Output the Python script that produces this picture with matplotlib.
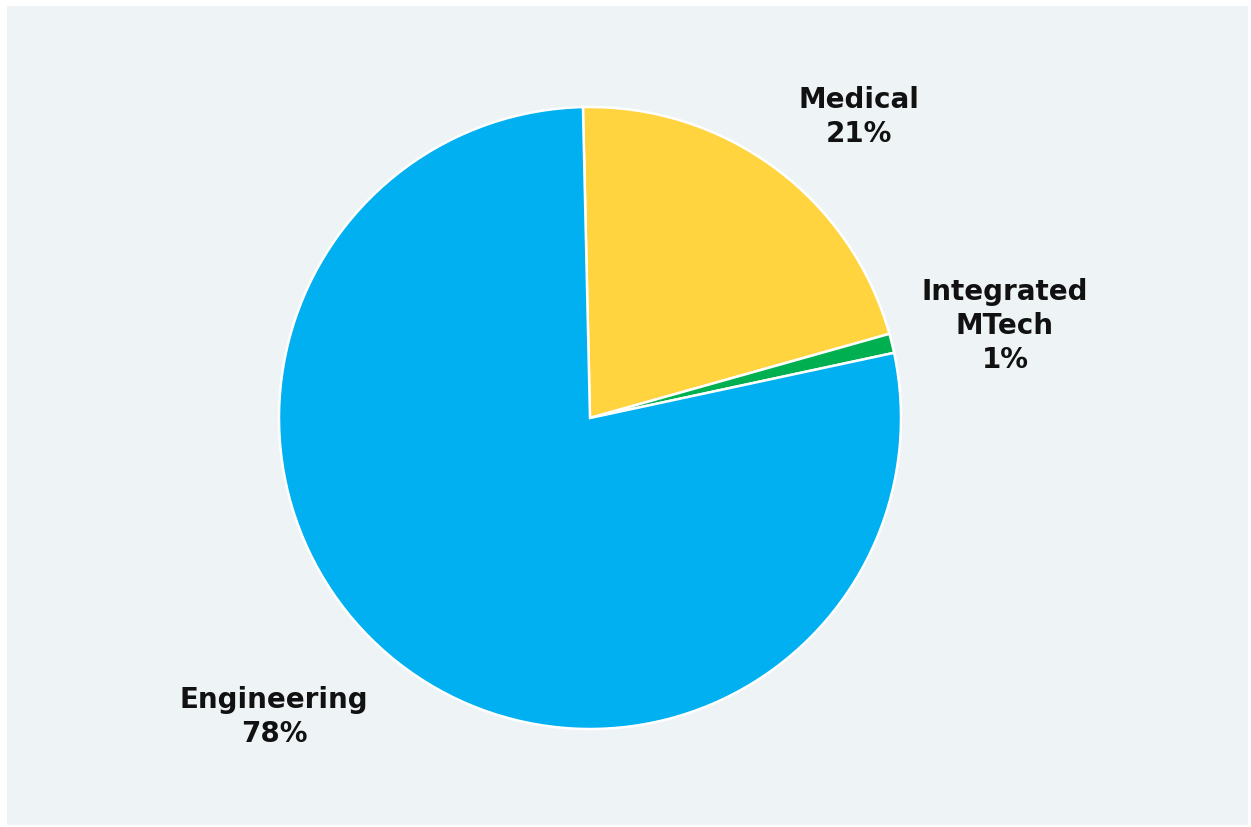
import matplotlib
matplotlib.use("Agg")
import matplotlib.pyplot as plt

categories = ["Medical", "Integrated\nMTech", "Engineering"]
values = [21, 1, 78]
colors = ["#FFD43F", "#00B050", "#00B0F0"]

W, H = 1251, 827
fig = plt.figure(figsize=(W / 100, H / 100), dpi=100)
fig.patch.set_facecolor("white")

bg = fig.add_axes([7 / W, 2 / H, (W - 10) / W, (H - 8) / H])
bg.set_facecolor("#EEF3F6")
bg.set_xticks([])
bg.set_yticks([])
for s in bg.spines.values():
    s.set_visible(False)
bg.set_zorder(0)

cx, cy, R = 590, 418, 311
ax = fig.add_axes([(cx - R) / W, (H - cy - R) / H, 2 * R / W, 2 * R / H])
ax.set_zorder(1)

ax.pie(values, colors=colors, startangle=91.3, counterclock=False, radius=1,
       wedgeprops=dict(edgecolor="white", linewidth=1.8))
ax.set_xlim(-1, 1)
ax.set_ylim(-1, 1)
ax.set_aspect("equal")
ax.axis("off")

label_pos = [(859, 117), (1005, 326), (274, 717)]
for name, v, (px, py) in zip(categories, values, label_pos):
    x = (px - cx) / R
    y = (cy - py) / R
    ax.text(x, y, f"{name}\n{v}%", ha="center", va="center", fontsize=20,
            fontweight="bold", family="DejaVu Sans", color="#111111",
            linespacing=1.25, clip_on=False)

fig.savefig("out.png", dpi=100, facecolor=fig.get_facecolor())
